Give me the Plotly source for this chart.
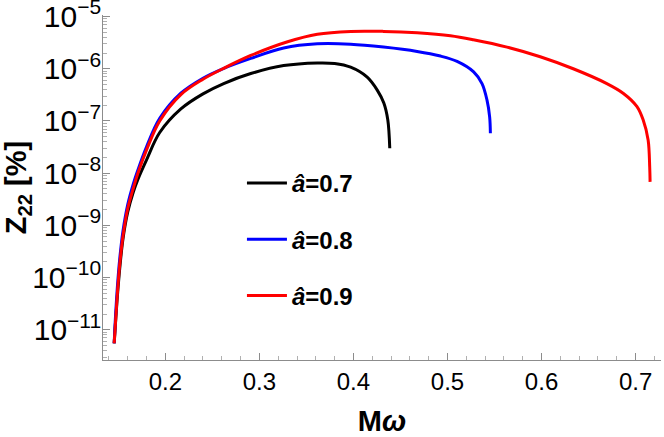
import plotly.graph_objects as go

# M*omega values and Z22 [%]
mw_07 = [0.1456, 0.1470, 0.1490, 0.1515, 0.1550, 0.1600, 0.1660, 0.1708, 0.1800, 0.1940,
         0.2165, 0.2400, 0.2620, 0.2908, 0.3258, 0.3616, 0.3800, 0.3970, 0.4146, 0.4253,
         0.4323, 0.4365, 0.4386]
z_07 = [5.5e-12, 1.35e-11, 4.4e-11, 1.5e-10, 5.6e-10, 1.8e-9, 4.4e-9, 7.6e-9, 1.8e-8, 6.0e-8,
        1.7e-7, 3.3e-7, 5.2e-7, 8.1e-7, 1.15e-6, 1.29e-6, 1.26e-6, 1.07e-6, 6.9e-7, 3.9e-7,
        2.2e-7, 1.05e-7, 3.0e-8]

mw_08 = [0.1456, 0.1470, 0.1490, 0.1515, 0.1550, 0.1600, 0.1660, 0.1708, 0.1800, 0.1940,
         0.2165, 0.2400, 0.2610, 0.2908, 0.3258, 0.3616, 0.3970, 0.4320, 0.4677, 0.4925,
         0.5102, 0.5278, 0.5367, 0.5420, 0.5448, 0.5456]
z_08 = [5.5e-12, 1.8e-11, 6.6e-11, 2.3e-10, 7.9e-10, 2.5e-9, 6.3e-9, 1.15e-8, 3.2e-8, 1.12e-7,
        3.4e-7, 6.6e-7, 1.0e-6, 1.58e-6, 2.5e-6, 3.0e-6, 2.95e-6, 2.6e-6, 2.15e-6, 1.75e-6,
        1.38e-6, 8.7e-7, 5.2e-7, 2.5e-7, 1.2e-7, 5.8e-8]

mw_09 = [0.1456, 0.1470, 0.1490, 0.1515, 0.1550, 0.1600, 0.1660, 0.1708, 0.1800, 0.1940,
         0.2165, 0.2400, 0.2610, 0.2908, 0.3300, 0.3616, 0.3970, 0.4320, 0.4677, 0.5031,
         0.5275, 0.5633, 0.5986, 0.6337, 0.6694, 0.6867, 0.7013, 0.7080, 0.7133, 0.7150,
         0.7154]
z_09 = [5.5e-12, 1.4e-11, 5.0e-11, 1.8e-10, 6.3e-10, 2.1e-9, 5.2e-9, 1.0e-8, 2.8e-8, 1.0e-7,
        3.2e-7, 6.3e-7, 1.0e-6, 1.8e-6, 3.3e-6, 4.6e-6, 5.2e-6, 5.2e-6, 4.9e-6, 4.3e-6,
        3.6e-6, 2.6e-6, 1.7e-6, 1.0e-6, 5.2e-7, 3.4e-7, 1.9e-7, 1.05e-7, 4.3e-8, 1.3e-8,
        6.8e-9]

names = ["<b><i>â</i>=0.7</b>", "<b><i>â</i>=0.8</b>", "<b><i>â</i>=0.9</b>"]
colors = ["black", "#0000ff", "#ff0000"]

fig = go.Figure()
for xs, zs, col, nm in zip([mw_07, mw_08, mw_09], [z_07, z_08, z_09], colors, names):
    fig.add_trace(go.Scatter(x=xs, y=zs, mode="lines", name=nm, legendgroup=nm,
                             line=dict(color=col, width=3, shape="spline", smoothing=1.0)))

axis_gray = "#8c8c8c"
fig.update_xaxes(range=[0.1337, 0.727], tick0=0, dtick=0.1, ticks="inside", ticklen=7,
                 tickcolor=axis_gray, showline=True, linecolor=axis_gray, linewidth=1,
                 showgrid=False, zeroline=False, automargin=False,
                 minor=dict(ticks="inside", ticklen=4, dtick=0.02, tickcolor="#b0b0b0", showgrid=False),
                 title=dict(text="<b>M<i>ω</i></b>", standoff=23))
fig.update_yaxes(type="log", range=[-11.58, -4.97], dtick=1, exponentformat="power",
                 ticks="inside", ticklen=7, tickcolor=axis_gray, showline=True,
                 linecolor=axis_gray, linewidth=1, showgrid=False, zeroline=False,
                 automargin=False, ticklabeloverflow="allow", ticklabelstandoff=-4,
                 minor=dict(ticks="inside", ticklen=4, dtick="D1", tickcolor="#b0b0b0", showgrid=False),
                 title=dict(text="<b>Z<sub>22</sub> [%]</b>", standoff=14))

fig.update_layout(
    width=664, height=437, margin=dict(l=103, r=3, t=15, b=77),
    plot_bgcolor="white", paper_bgcolor="white",
    font=dict(family="Liberation Sans, Arial", size=24, color="black"),
    legend=dict(x=0.249, y=0.577, xanchor="left", yanchor="top", font=dict(size=24),
                tracegroupgap=22, bgcolor="rgba(0,0,0,0)", itemwidth=40),
)

# drop the default page margin so the figure sits at the window's corner
fig.write_html("out.html", config={"displayModeBar": False},
               post_script="document.body.style.margin='0';")
